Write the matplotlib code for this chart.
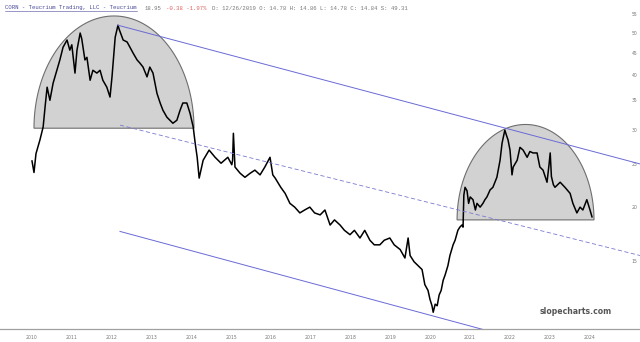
import matplotlib
matplotlib.use("Agg")
import matplotlib.pyplot as plt
import numpy as np
from matplotlib.patches import Polygon
from matplotlib.transforms import IdentityTransform

# ---------------- data ----------------
years = [2010.00, 2010.05, 2010.10, 2010.20, 2010.28, 2010.33, 2010.38, 2010.45, 2010.53, 2010.62,
         2010.70, 2010.78, 2010.88, 2010.95, 2011.00, 2011.08, 2011.13, 2011.21, 2011.25, 2011.33,
         2011.38, 2011.46, 2011.53, 2011.63, 2011.71, 2011.78, 2011.88, 2011.96, 2012.01, 2012.09,
         2012.16, 2012.19, 2012.29, 2012.39, 2012.46, 2012.54, 2012.64, 2012.71, 2012.79, 2012.89,
         2012.96, 2013.04, 2013.14, 2013.22, 2013.29, 2013.39, 2013.54, 2013.64, 2013.72, 2013.79,
         2013.89, 2013.97, 2014.05, 2014.10, 2014.15, 2014.20, 2014.30, 2014.45, 2014.60, 2014.75,
         2014.92, 2015.02, 2015.04, 2015.06, 2015.10, 2015.23, 2015.35, 2015.48, 2015.60, 2015.73,
         2015.85, 2015.98, 2016.05, 2016.11, 2016.25, 2016.36, 2016.48, 2016.60, 2016.73, 2016.85,
         2016.98, 2017.10, 2017.24, 2017.36, 2017.49, 2017.60, 2017.74, 2017.85, 2017.99, 2018.10,
         2018.24, 2018.36, 2018.49, 2018.60, 2018.74, 2018.85, 2018.99, 2019.10, 2019.25, 2019.37,
         2019.45, 2019.50, 2019.60, 2019.70, 2019.80, 2019.87, 2019.95, 2020.00, 2020.05, 2020.08,
         2020.13, 2020.18, 2020.23, 2020.28, 2020.33, 2020.38, 2020.45, 2020.50, 2020.58, 2020.63,
         2020.70, 2020.75, 2020.80, 2020.83, 2020.85, 2020.88, 2020.93, 2020.97, 2021.01, 2021.08,
         2021.14, 2021.18, 2021.26, 2021.33, 2021.38, 2021.43, 2021.51, 2021.58, 2021.68, 2021.76,
         2021.81, 2021.88, 2021.92, 2021.96, 2022.01, 2022.06, 2022.09, 2022.19, 2022.26, 2022.34,
         2022.44, 2022.51, 2022.59, 2022.69, 2022.76, 2022.84, 2022.94, 2022.99, 2023.02, 2023.05,
         2023.10, 2023.14, 2023.27, 2023.39, 2023.52, 2023.59, 2023.69, 2023.77, 2023.84, 2023.94,
         2024.02, 2024.07]
prices = [25.5, 24.0, 26.5, 28.5, 30.5, 34.0, 37.6, 35.1, 38.4, 41.0,
          43.4, 46.4, 48.2, 45.7, 47.0, 40.5, 45.7, 50.0, 48.5, 43.4,
          44.0, 39.0, 41.1, 40.5, 41.1, 39.0, 37.6, 35.7, 39.7, 48.9,
          52.1, 51.0, 48.2, 47.7, 46.4, 45.0, 43.4, 42.7, 41.8, 39.7,
          41.8, 40.5, 36.4, 34.6, 33.3, 32.1, 31.1, 31.6, 33.3, 34.6,
          34.6, 32.8, 30.5, 28.0, 26.0, 23.3, 25.6, 27.0, 26.0, 25.2,
          26.0, 25.0, 25.6, 29.5, 24.7, 23.9, 23.4, 23.9, 24.3, 23.7,
          24.7, 26.0, 23.7, 23.3, 22.2, 21.5, 20.4, 20.0, 19.4, 19.7,
          20.0, 19.4, 19.2, 19.7, 18.2, 18.7, 18.2, 17.7, 17.3, 17.7,
          17.0, 17.7, 16.8, 16.4, 16.4, 16.8, 17.0, 16.4, 16.0, 15.3,
          17.0, 15.5, 15.0, 14.7, 14.4, 13.3, 12.9, 12.3, 11.9, 11.5,
          12.0, 11.9, 12.6, 12.9, 13.6, 14.0, 14.7, 15.5, 16.4, 16.8,
          17.7, 18.0, 18.2, 18.0, 21.3, 22.2, 21.8, 20.4, 21.1, 20.8,
          19.7, 20.4, 20.0, 20.4, 20.8, 21.1, 21.9, 22.2, 23.4, 25.6,
          28.0, 30.0, 29.2, 28.5, 27.0, 23.7, 24.7, 25.6, 27.4, 27.0,
          26.0, 26.8, 26.6, 26.6, 24.7, 24.3, 22.8, 25.0, 26.6, 23.5,
          22.5, 22.2, 22.8, 22.2, 21.5, 20.4, 19.4, 20.0, 19.7, 20.8,
          19.7, 19.0]

# trend lines: (x0, y0, x1, y1)
upper_line = [2012.16, 52.1, 2025.28, 25.1]
mid_line = [2012.21, 30.8, 2025.28, 15.5]
lower_line = [2012.21, 17.6, 2025.28, 8.4]

# humps: (x start, x end, base price, top price)
humps = [[2010.05, 2014.07, 30.3, 54.7],
         [2020.68, 2024.12, 18.7, 30.9]]

year_ticks = list(range(2010, 2025))
price_ticks = [15, 20, 25, 30, 35, 40, 45, 50, 55]

header_link = "CORN - Teucrium Trading, LLC - Teucrium"
header_last = "18.95"
header_chg = "-0.38 -1.97%"
header_rest = "D: 12/26/2019 O: 14.78 H: 14.86 L: 14.78 C: 14.84 S: 49.31"

# ---------------- figure ----------------
W, H = 640, 342
fig = plt.figure(figsize=(W / 100, H / 100), dpi=100)
fig.patch.set_facecolor("white")
ax = fig.add_axes([0, 13 / H, 1, 329 / H])
ax.set_yscale("log")
ax.set_xlim(2009.196, 2025.276)
ax.set_ylim(10.53, 59.5)
for s in ["top", "right", "left"]:
    ax.spines[s].set_visible(False)
ax.spines["bottom"].set_color("#a0a0a0")
ax.spines["bottom"].set_linewidth(0.9)
ax.set_yticks([])
ax.yaxis.set_minor_locator(matplotlib.ticker.NullLocator())
ax.set_xticks(year_ticks)
ax.set_xticklabels([str(y) for y in year_ticks], fontsize=3.3, color="#777777")
ax.tick_params(axis="x", length=0, pad=4)

# right-side price labels inside axes
for p in price_ticks:
    ax.text(0.991, p, str(p), transform=ax.get_yaxis_transform(), fontsize=3.3,
            color="#777777", ha="center", va="center")

# humps (half ellipses drawn in pixel space)
fig.canvas.draw()
for x0, x1, base, top in humps:
    (px0, py0) = ax.transData.transform((x0, base))
    (px1, _) = ax.transData.transform((x1, base))
    (_, pyt) = ax.transData.transform((x0, top))
    cx = (px0 + px1) / 2
    a = (px1 - px0) / 2
    b = pyt - py0
    t = np.linspace(0, np.pi, 200)
    pts = np.column_stack([cx + a * np.cos(t), py0 + b * np.sin(t)])
    poly = Polygon(pts, closed=True, facecolor="#d2d2d2", edgecolor="#6e6e6e",
                   linewidth=0.8, transform=IdentityTransform(), zorder=1)
    ax.add_patch(poly)

# trend lines
ax.plot([upper_line[0], upper_line[2]], [upper_line[1], upper_line[3]],
        color="#6a6ad6", lw=0.7, zorder=3)
ax.plot([mid_line[0], mid_line[2]], [mid_line[1], mid_line[3]],
        color="#7a7ad0", lw=0.6, ls=(0, (5, 3)), zorder=3)
ax.plot([lower_line[0], lower_line[2]], [lower_line[1], lower_line[3]],
        color="#6a6ad6", lw=0.7, zorder=3)

# price series
ax.plot(years, prices, color="black", lw=1.1, zorder=2)

# header
y_h = 1 - 8 / H
fs_h = 4.1
t1 = fig.text(5 / W, y_h, header_link, fontsize=fs_h, family="Liberation Mono",
              color="#4a4a9a", va="center", ha="left")
fig.canvas.draw()
bb = t1.get_window_extent()
fig.add_artist(plt.Line2D([bb.x0 / W, bb.x1 / W], [bb.y0 / H, bb.y0 / H],
                          color="#4a4a9a", lw=0.4))
x_cur = bb.x1 + 8
t2 = fig.text(x_cur / W, y_h, header_last, fontsize=fs_h, family="Liberation Mono",
              color="#777777", va="center", ha="left")
fig.canvas.draw()
x_cur = t2.get_window_extent().x1 + 5
t3 = fig.text(x_cur / W, y_h, header_chg, fontsize=fs_h, family="Liberation Mono",
              color="#e06060", va="center", ha="left")
fig.canvas.draw()
x_cur = t3.get_window_extent().x1 + 5
fig.text(x_cur / W, y_h, header_rest, fontsize=fs_h, family="Liberation Mono",
         color="#777777", va="center", ha="left")

# watermark
fig.text(576 / W, 1 - 311 / H, "slopecharts.com", fontsize=5.6, fontweight="bold",
         color="#555555", ha="center", va="center")

fig.savefig("out.png", dpi=100)
